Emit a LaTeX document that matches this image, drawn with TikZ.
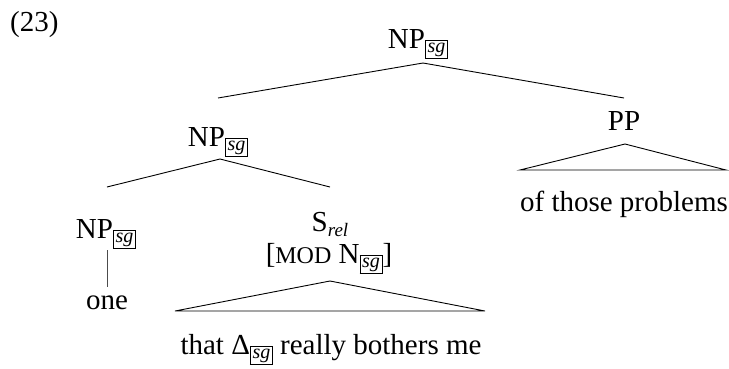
\documentclass[tikz,border=0pt]{standalone}
\usepackage{fontspec}
\setmainfont{Liberation Serif}
\newcommand{\sgb}{\raisebox{-4pt}{\fontsize{20}{20}\selectfont\setlength{\fboxsep}{2pt}\setlength{\fboxrule}{0.6pt}\fbox{\itshape sg}}}
\newcommand{\subsc}[1]{\raisebox{-5pt}{\fontsize{19}{19}\selectfont\itshape #1}}
\newcommand{\smc}[1]{{\fontsize{24}{24}\selectfont #1}}
\begin{document}
\begin{tikzpicture}[x=1pt,y=-1pt,
  lbl/.style={inner sep=0pt, anchor=base, font=\fontsize{29}{34}\selectfont},
  edge/.style={line width=0.9pt},
  stem/.style={line width=0.7pt, black!70}]
\useasboundingbox (0,0) rectangle (729,368);
% labels
\node[lbl, anchor=base west] (ex) at (10,31) {(23)};
\node[lbl] (np0) at (418,48) {NP\sgb};
\node[lbl] (np1) at (218,146) {NP\sgb};
\node[lbl] (pp) at (624,130) {PP};
\node[lbl] (pptxt) at (624,211) {of those problems};
\node[lbl] (np2) at (106,238) {NP\sgb};
\node[lbl] (one) at (107,309) {one};
\node[lbl] (srel) at (330,231) {S\subsc{rel}};
\node[lbl] (mod) at (329,263) {[\smc{MOD} N\sgb]};
\node[lbl] (stxt) at (331,354) {that Δ\sgb{} really bothers me};
% edge coordinates
\coordinate (a0) at (423,63);
\coordinate (l0) at (218,98);
\coordinate (r0) at (624,98);
\coordinate (a1) at (220,159);
\coordinate (l1) at (107,187);
\coordinate (r1) at (330,187);
\coordinate (v1) at (107,250);
\coordinate (v2) at (107,287);
\coordinate (ta) at (625,144);
\coordinate (tl) at (520,170);
\coordinate (tr) at (726,170);
\coordinate (ba) at (330,281);
\coordinate (bl) at (175,311);
\coordinate (br) at (485,311);
% connectors
\draw[edge] (l0) -- (a0) -- (r0);
\draw[edge] (l1) -- (a1) -- (r1);
\draw[stem] (v1) -- (v2);
\draw[edge] (ta) -- (tl) -- (tr) -- cycle;
\draw[edge] (ba) -- (bl) -- (br) -- cycle;
\end{tikzpicture}
\end{document}
